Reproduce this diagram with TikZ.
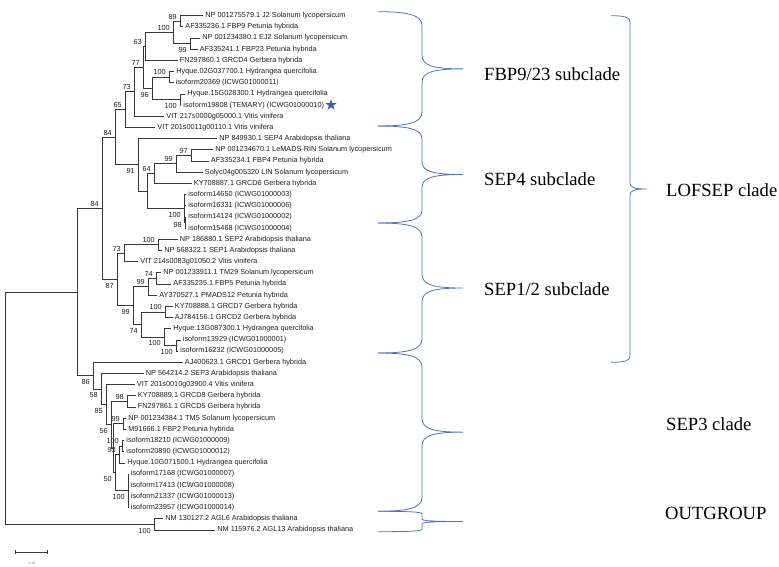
\documentclass[tikz,border=0pt]{standalone}
\usepackage{fontspec}
\setmainfont{Liberation Sans}
\newfontfamily\serifbig{Liberation Serif}
\usetikzlibrary{calc,shapes.geometric}
\definecolor{brc}{RGB}{79,114,190}
\definecolor{treec}{RGB}{55,55,55}
\definecolor{txtc}{RGB}{30,30,30}
\definecolor{starc}{RGB}{58,92,170}
\newcommand\lf[3]{\node[lf] (t#1) at (#2,{15.7+(#1-1)*11.18}) {#3};}
\newcommand\cl[4]{\path let \p1=($(#3)!0.5!(#4)$) in (#2pt,\y1) coordinate (#1); \draw[br] (#3) -| (#1 |- #4) -- (#4);}
\newcommand\ba[3]{\node[bs,anchor=south east] (#1) at ($(#2)+(-3,-2)$) {#3};}
\newcommand\bb[3]{\node[bs,anchor=north east] (#1) at ($(#2)+(-3,3.5)$) {#3};}
\newcommand\brc[6]{%
\pgfmathsetmacro\bym{(#4+#5)/2}%
\draw[bracel] (#1,#4) .. controls ({#2-0.3*(#2-#1)},#4) and (#2,{#4+0.25*#6}) .. (#2,{#4+#6}) -- (#2,{\bym-#6}) .. controls (#2,{\bym-0.25*#6}) and ({#2+0.25*(#3-#2)},\bym) .. (#3,\bym) .. controls ({#2+0.25*(#3-#2)},\bym) and (#2,{\bym+0.25*#6}) .. (#2,{\bym+#6}) -- (#2,{#5-#6}) .. controls (#2,{#5-0.25*#6}) and ({#2-0.3*(#2-#1)},#5) .. (#1,#5);}
\begin{document}
\begin{tikzpicture}[x=1pt,y=-1pt,
 br/.style={draw=treec,line width=0.8pt},
 lf/.style={anchor=west,inner xsep=2.2pt,inner ysep=0pt,font=\fontsize{7.3}{8}\selectfont,text=txtc},
 bs/.style={inner sep=0pt,font=\fontsize{7.3}{8}\selectfont,text=txtc},
 clab/.style={anchor=base west,inner sep=0pt,font=\serifbig\fontsize{18.6}{20}\selectfont,text=black},
 bracel/.style={draw=brc,line width=0.8pt}]
\useasboundingbox (0,0) rectangle (779,566);
% leaves
\lf{1}{203}{NP 001275579.1 J2 Solanum lycopersicum}
\lf{2}{183}{AF335236.1 FBP9 Petunia hybrida}
\lf{3}{200}{NP 001234380.1 EJ2 Solanum lycopersicum}
\lf{4}{197.5}{AF335241.1 FBP23 Petunia hybrida}
\lf{5}{177.5}{FN297860.1 GRCD4 Gerbera hybrida}
\lf{6}{174}{Hyque.02G037700.1 Hydrangea quercifolia}
\lf{7}{173.5}{isoform20369 (ICWG01000011)}
\lf{8}{185}{Hyque.15G028300.1 Hydrangea quercifolia}
\lf{9}{181}{isoform19808 (TEMARY) (ICWG01000010)}
\lf{10}{164}{VIT 217s0000g05000.1 Vitis vinifera}
\lf{11}{155}{VIT 201s0011g00110.1 Vitis vinifera}
\lf{12}{217}{NP 849930.1 SEP4 Arabidopsis thaliana}
\lf{13}{213}{NP 001234670.1 LeMADS-RIN Solanum lycopersicum}
\lf{14}{208.5}{AF335234.1 FBP4 Petunia hybrida}
\lf{15}{202.5}{Solyc04g005320 LIN Solanum lycopersicum}
\lf{16}{191.5}{KY708887.1 GRCD6 Gerbera hybrida}
\lf{17}{186}{isoform14650 (ICWG01000003)}
\lf{18}{186}{isoform16331 (ICWG01000006)}
\lf{19}{186}{isoform14124 (ICWG01000002)}
\lf{20}{186}{isoform15468 (ICWG01000004)}
\lf{21}{177.5}{NP 186880.1 SEP2 Arabidopsis thaliana}
\lf{22}{162}{NP 568322.1 SEP1 Arabidopsis thaliana}
\lf{23}{138}{VIT 214s0083g01050.2 Vitis vinifera}
\lf{24}{161}{NP 001233911.1 TM29 Solanum lycopersicum}
\lf{25}{171}{AF335235.1 FBP5 Petunia hybrida}
\lf{26}{157}{AY370527.1 PMADS12 Petunia hybrida}
\lf{27}{172.5}{KY708888.1 GRCD7 Gerbera hybrida}
\lf{28}{172.5}{AJ784156.1 GRCD2 Gerbera hybrida}
\lf{29}{171}{Hyque.13G087300.1 Hydrangea quercifolia}
\lf{30}{180.5}{isoform13929 (ICWG01000001)}
\lf{31}{178}{isoform16232 (ICWG01000005)}
\lf{32}{182.5}{AJ400623.1 GRCD1 Gerbera hybrida}
\lf{33}{143.5}{NP 564214.2 SEP3 Arabidopsis thaliana}
\lf{34}{134.5}{VIT 201s0010g03900.4 Vitis vinifera}
\lf{35}{135.5}{KY708889.1 GRCD8 Gerbera hybrida}
\lf{36}{135.5}{FN297861.1 GRCD5 Gerbera hybrida}
\lf{37}{126}{NP 001234384.1 TM5 Solanum lycopersicum}
\lf{38}{126}{M91666.1 FBP2 Petunia hybrida}
\lf{39}{124}{isoform18210 (ICWG01000009)}
\lf{40}{124}{isoform20890 (ICWG01000012)}
\lf{41}{125}{Hyque.10G071500.1 Hydrangea quercifolia}
\lf{42}{128.5}{isoform17168 (ICWG01000007)}
\lf{43}{128.5}{isoform17413 (ICWG01000008)}
\lf{44}{128.5}{isoform21337 (ICWG01000013)}
\lf{45}{128.5}{isoform23957 (ICWG01000014)}
\lf{46}{163}{NM 130127.2 AGL6 Arabidopsis thaliana}
\lf{47}{215}{NM 115976.2 AGL13 Arabidopsis thaliana}
% FBP9/23
\cl{A}{180}{t1.west}{t2.west} \ba{bA}{A}{89}
\cl{B}{190}{t3.west}{t4.west} \bb{bB}{B}{99}
\cl{C}{173}{A}{B} \ba{bC}{C}{100}
\cl{D}{145}{C}{t5.west} \ba{bD}{D}{63}
\cl{E}{169}{t6.west}{t7.west} \ba{bE}{E}{100}
\cl{F}{180}{t8.west}{t9.west} \bb{bF}{F}{100}
\cl{G}{152}{E}{F} \bb{bG}{G}{96}
\cl{H}{143}{D}{G} \ba{bH}{H}{77}
\cl{I}{134}{H}{t10.west} \ba{bI}{I}{73}
\cl{J}{125}{I}{t11.west} \ba{bJ}{J}{65}
% SEP4
\cl{P}{191}{t13.west}{t14.west} \ba{bP}{P}{97}
\cl{O}{176}{P}{t15.west} \ba{bO}{O}{99}
\cl{N}{154}{O}{t16.west} \ba{bN}{N}{64}
\cl{S}{185}{t19.west}{t20.west} \node[bs,anchor=east] (bS) at (182,225) {98};
\cl{R}{184}{t17.west}{S} \draw[br] (R |- t18.west) -- (t18.west); \bb{bR}{R}{100}
\cl{Q}{147}{N}{R}
\cl{L}{138}{t12.west}{Q} \bb{bL}{L}{91}
\cl{K}{115}{J}{L} \ba{bK}{K}{84}
% SEP1/2
\cl{a1}{158}{t21.west}{t22.west} \ba{ba1}{a1}{100}
\cl{a2}{124}{a1}{t23.west} \ba{ba2}{a2}{73}
\cl{b1}{156}{t24.west}{t25.west} \ba{bb1}{b1}{74}
\cl{b2}{148}{b1}{t26.west} \ba{bb2}{b2}{99}
\cl{c1}{165}{t27.west}{t28.west} \ba{bc1}{c1}{100}
\cl{c2}{176}{t30.west}{t31.west} \bb{bc2}{c2}{100}
\cl{c3}{164}{t29.west}{c2} \bb{bc3}{c3}{100}
\cl{c4}{141}{c1}{c3} \bb{bc4}{c4}{74}
\cl{c5}{133}{b2}{c4} \bb{bc5}{c5}{99}
\cl{c6}{117}{a2}{c5} \bb{bc6}{c6}{87}
\cl{V}{102}{K}{c6} \ba{bV}{V}{84}
% SEP3
\cl{d1}{127}{t35.west}{t36.west} \ba{bd1}{d1}{98}
\cl{d2}{123}{t37.west}{t38.west} \ba{bd2}{d2}{99}
\cl{d3}{122}{t39.west}{t40.west} \ba{bd3}{d3}{100}
\cl{d4}{119}{d3}{t41.west} \ba{bd4}{d4}{93}
\cl{e2}{128}{t42.west}{t45.west} \draw[br] (e2 |- t43.west) -- (t43.west) (e2 |- t44.west) -- (t44.west); \bb{be2}{e2}{100}
\cl{X}{115}{d4}{e2} \bb{bX}{X}{50}
\cl{Z}{113}{d2}{X}
\cl{Y}{111}{d1}{Z} \bb{bY}{Y}{56}
\cl{W85}{106}{t34.west}{Y} \bb{b85}{W85}{85}
\cl{W58}{101}{t33.west}{W85} \bb{b58}{W58}{58}
\cl{W}{93}{t32.west}{W58} \bb{bW}{W}{86}
\cl{T}{77}{V}{W}
% outgroup and root
\cl{OG}{154}{t46.west}{t47.west} \bb{bOG}{OG}{100}
\cl{root}{5}{T}{OG}
% star
\node[star,star points=5,star point ratio=2.5,fill=starc,draw=none,minimum size=11.5pt,inner sep=0pt] (star) at (331,105) {};
% scale bar
\coordinate (sb1) at (15,552); \coordinate (sb2) at (47,552);
\draw[treec,line width=0.7pt] (sb1) -- (sb2);
\draw[treec,line width=0.6pt] ($(sb1)+(0,-2)$) -- ($(sb1)+(0,2)$) ($(sb2)+(0,-2)$) -- ($(sb2)+(0,2)$);
\node[inner sep=0pt,font=\fontsize{3.5}{4}\selectfont,text=gray] (sbl) at (32,563) {0.20};
% braces
\brc{378}{422}{463}{11.7}{126}{14}
\brc{378}{422}{463}{126}{223}{13}
\brc{378}{422}{463}{223}{353}{14}
\brc{378}{422}{463}{353}{511.3}{14}
\brc{378}{422}{463}{511.3}{531.7}{2.5}
\brc{611}{630}{647}{15.7}{362.3}{6}
% clade labels
\node[clab] (lfbp) at (484,80.2) {FBP9/23 subclade};
\node[clab] (lsep4) at (484,185.2) {SEP4 subclade};
\node[clab] (lsep12) at (484,295.9) {SEP1/2 subclade};
\node[clab] (llof) at (666,196.2) {LOFSEP clade};
\node[clab] (lsep3) at (666,430.9) {SEP3 clade};
\node[clab] (lout) at (665,519.2) {OUTGROUP};
\end{tikzpicture}
\end{document}
